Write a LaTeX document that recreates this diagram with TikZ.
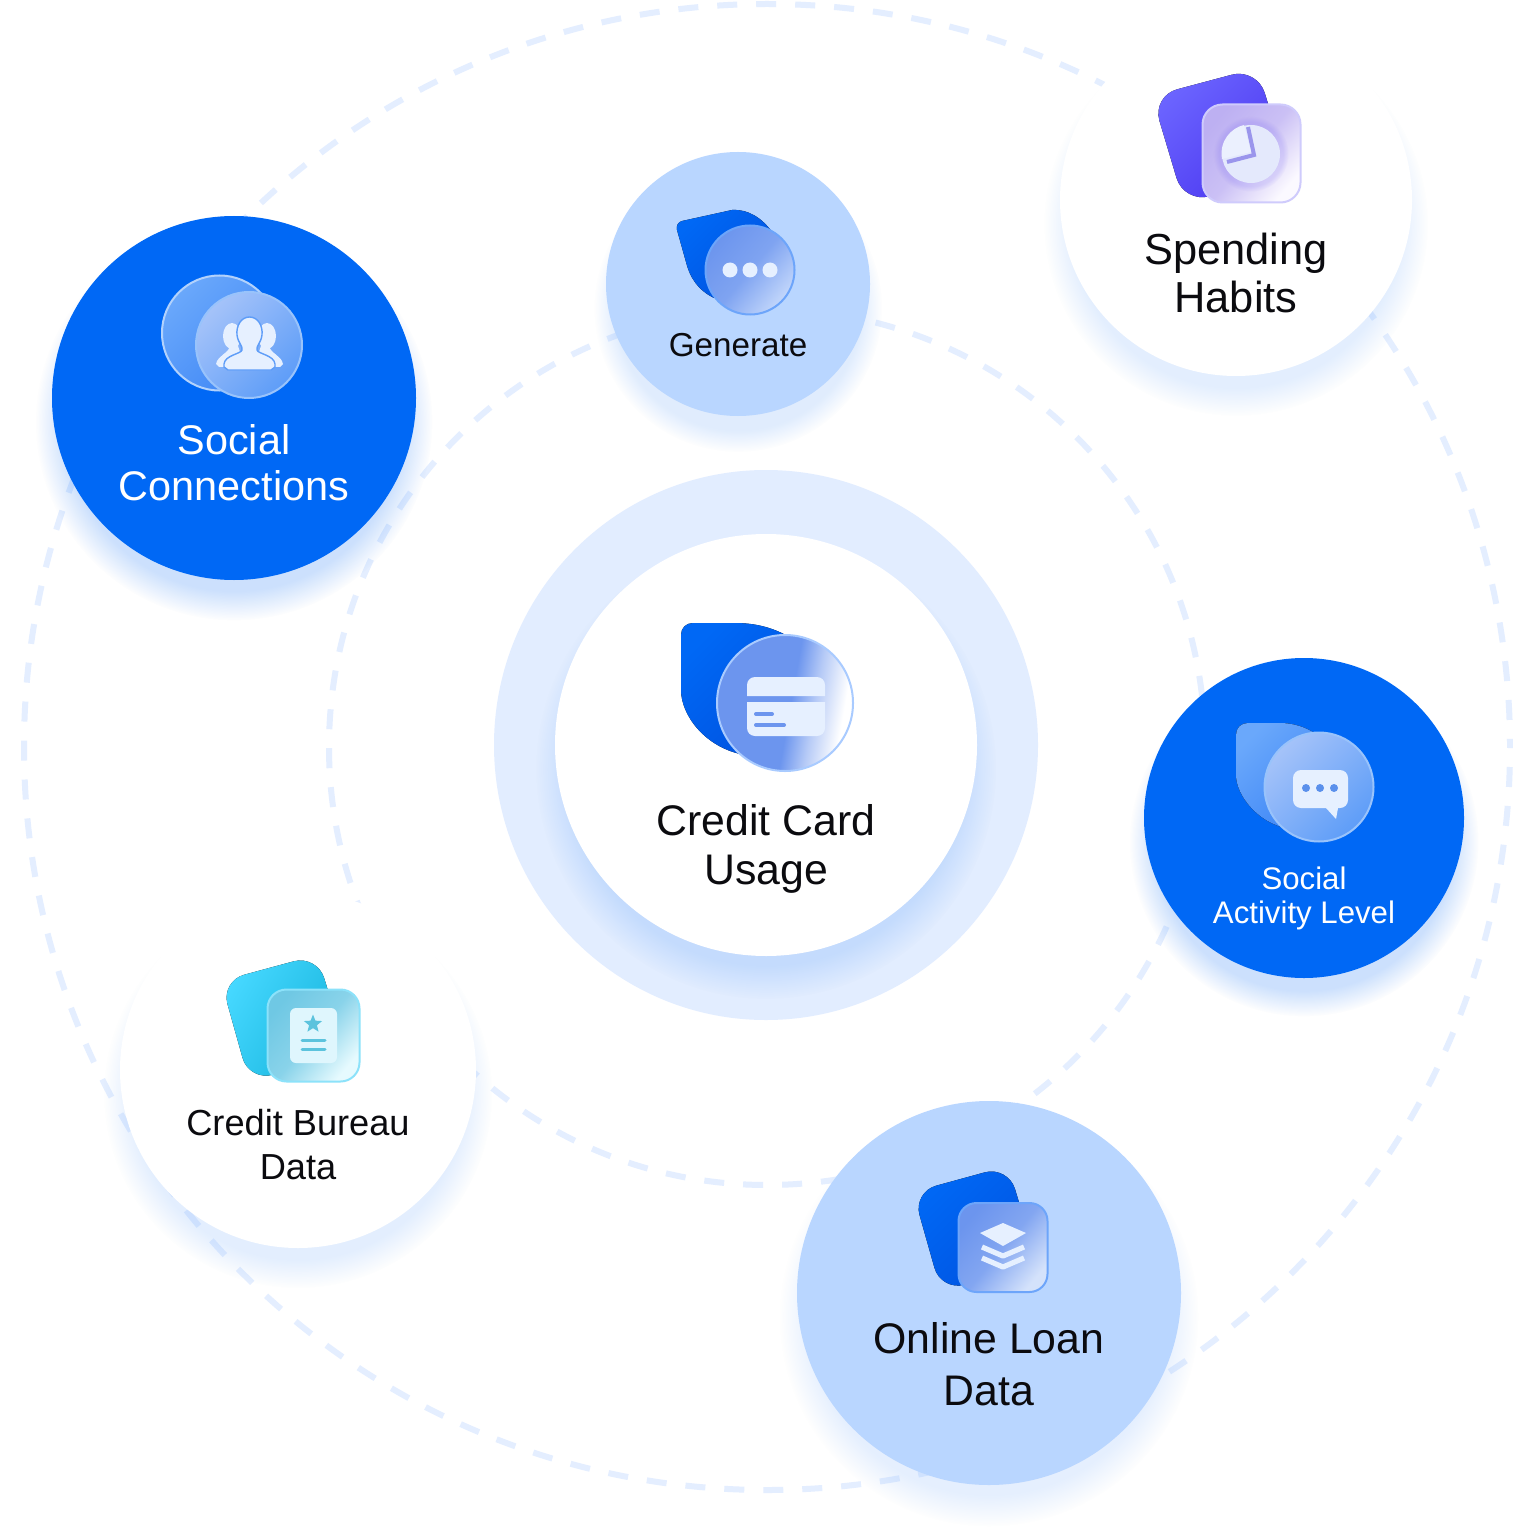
\documentclass[tikz,border=0pt]{standalone}
\usepackage{fontspec}
\setmainfont{Liberation Sans}
\usetikzlibrary{shadows,shapes.geometric}

\definecolor{brand}{HTML}{0068F5}
\definecolor{branddark}{HTML}{0053E0}
\definecolor{pale}{HTML}{B9D6FF}
\definecolor{ringblue}{HTML}{E2EDFF}
\definecolor{dashblue}{HTML}{E4EEFF}
\definecolor{ink}{HTML}{0B0B0F}
\definecolor{iconwhite}{HTML}{E6F0FF}
\definecolor{glassblue}{HTML}{6C95EE}
\definecolor{rimblue}{HTML}{A9CBFF}
\definecolor{dotsend}{HTML}{C3D7FB}
\definecolor{dotsrim}{HTML}{6DA5FA}
\definecolor{softback}{HTML}{6AA8FB}
\definecolor{softbackend}{HTML}{3F87F6}
\definecolor{softdisc}{HTML}{A5C3F9}
\definecolor{softdiscend}{HTML}{5E9DF8}
\definecolor{violet}{HTML}{6C65FF}
\definecolor{violetend}{HTML}{4A36F0}
\definecolor{lilac}{HTML}{BDB0F2}
\definecolor{lilacend}{HTML}{FBF9FF}
\definecolor{lilacrim}{HTML}{CFCBFC}
\definecolor{piefill}{HTML}{E4E9FC}
\definecolor{piecut}{HTML}{9A95EC}
\definecolor{pieslice}{HTML}{EBF0FE}
\definecolor{cyan1}{HTML}{46D8FF}
\definecolor{cyan2}{HTML}{16B4DC}
\definecolor{cyanglass}{HTML}{6FC8E4}
\definecolor{cyanend}{HTML}{E6FAFE}
\definecolor{cyanrim}{HTML}{8CE2FA}
\definecolor{paper}{HTML}{DFF6FD}
\definecolor{papermark}{HTML}{5CC3DD}
\definecolor{stackend}{HTML}{D4E2FB}
\definecolor{chatdot}{HTML}{5A90EC}

\pgfdeclareverticalshading{carddiscshade}{100bp}{
  color(0bp)=(white); color(28bp)=(white); color(39bp)=(glassblue!50!white);
  color(48bp)=(glassblue); color(100bp)=(glassblue)}

\begin{document}
\begin{tikzpicture}[
  x=0.5pt, y=-0.5pt,
  orbit/.style={draw=dashblue, line width=3pt, dash pattern=on 10pt off 9.5pt},
  bubble/.style={circle, inner sep=0pt, minimum size=#1},
  softshade/.style={circular drop shadow={shadow xshift=0pt, shadow yshift=-11pt,
      shadow scale=1.09, fill=#1, opacity=0.2}},
  lbl/.style n args={2}{font=\fontsize{#1}{#2}\selectfont, align=center, inner sep=0pt},
  glass/.style n args={3}{draw=#3, line width=1pt, top color=#1, bottom color=#2,
      middle color=#1!78!#2, shading angle=50},
  softdiscfill/.style={draw=white!60!brand, line width=1pt, top color=softdisc,
      bottom color=softdiscend, shading angle=45},
  ico/.style={fill=iconwhite},
]
\useasboundingbox[fill=white] (0,0) rectangle (1513,1535);

% Orbits
\draw[orbit, dash phase=9.5pt] (767,747) circle (743);
\draw[orbit, dash phase=5pt] (767,747) circle (438);

% Centre ring
\node[ellipse, inner sep=0pt, minimum width=272pt, minimum height=275pt, fill=ringblue] (ring) at (766,745) {};
\node[bubble=211pt, fill=white, softshade=brand!70] (centre) at (766,745) {};

% Bubbles
\node[bubble=182pt, fill=brand, softshade=brand] (social) at (234,398) {};
\node[bubble=132pt, fill=pale, softshade=brand!60] (generate) at (738,284) {};
\node[bubble=176pt, fill=white, softshade=brand!55] (spending) at (1236,200) {};
\node[bubble=160pt, fill=brand, softshade=brand] (activity) at (1304,818) {};
\node[bubble=192pt, fill=pale, softshade=brand!50] (loan) at (989,1293) {};
\node[bubble=178pt, fill=white, softshade=brand!55] (bureau) at (298,1070) {};

% Credit card icon
\fill[top color=brand, bottom color=branddark, shading angle=45]
  (693,623) -- (735,623) .. controls (760,623) and (780,630) .. (797,642)
  -- (770,740) -- (745,755) .. controls (705,748) and (681,715) .. (681,690)
  -- (681,635) .. controls (681,628) and (686,623) .. (693,623) -- cycle;
\node[bubble=68pt, draw=rimblue, line width=1pt, shading=carddiscshade, shading angle=80] (carddisc) at (785,703) {};
\path[ico] (747,696) [rounded corners=4pt] -- (747,677) -- (825,677) [sharp corners] -- (825,696) -- cycle;
\path[ico] (747,702) -- (825,702) [rounded corners=4pt] -- (825,736) -- (747,736) [sharp corners] -- cycle;
\draw[line width=2pt, line cap=round, color=glassblue] (756,714) -- (772,714);
\draw[line width=2pt, line cap=round, color=glassblue] (756,725) -- (784,725);

% Social connections icon
\node[bubble=57.5pt, draw=white!70!brand, line width=1pt, top color=softback, bottom color=softbackend,
  shading angle=45] (peopleback) at (219.5,333) {};
\node[bubble=53pt, softdiscfill] (peopledisc) at (249,345) {};
\fill[ico] (232,336) ellipse (9 and 13);
\fill[ico] (267,336) ellipse (9 and 13);
\fill[ico] (216,364) .. controls (218,355) and (228,354) .. (230,346) -- (238,346) -- (245,366) -- (219,367) -- cycle;
\fill[ico] (283,364) .. controls (281,355) and (271,354) .. (269,346) -- (261,346) -- (254,366) -- (280,367) -- cycle;
\draw[ico, draw=softdiscend, line width=0.7pt] (249.5,317) .. controls (258,317) and (263,326) .. (262,335)
  .. controls (261,343) and (256,346) .. (257,350) .. controls (258,354) and (274,355) .. (275,364)
  -- (275,367) -- (271,370) -- (228,370) -- (224,367) -- (224,364)
  .. controls (225,355) and (241,354) .. (242,350) .. controls (243,346) and (238,343) .. (237,335)
  .. controls (236,326) and (241,317) .. (249.5,317) -- cycle;

% Generate icon
\fill[top color=brand, bottom color=branddark, shading angle=45]
  (682,221) -- (732,210) .. controls (748,209) and (762,218) .. (772,232)
  -- (760,280) -- (714,298) .. controls (698,290) and (690,278) .. (686,262)
  -- (677,230) .. controls (676,226) and (678,222) .. (682,221) -- cycle;
\node[bubble=44.5pt, glass={glassblue}{dotsend}{dotsrim}] (dotsdisc) at (750,270) {};
\foreach \dx in {730,750,770}
  \fill[ico] (\dx,270) circle (7.5);

% Spending habits icon
\fill[top color=violet, bottom color=violetend, shading angle=45, rounded corners=13pt]
  (1152,96) -- (1257,68) -- (1290,175) -- (1184,203) -- cycle;
\node[rectangle, rounded corners=10pt, inner sep=0pt, minimum size=49pt,
  glass={lilac}{lilacend}{lilacrim}] (piecard) at (1251.5,153.5) {};
\node[bubble=29pt, fill=piefill, circular drop shadow={shadow xshift=0pt, shadow yshift=0pt,
  shadow scale=1.3, fill=violetend, opacity=0.12}] (pie) at (1251,154) {};
\draw[color=piecut, line width=2pt] (1248,127) -- (1254,155) -- (1227,162);
\fill[color=pieslice] (1251,152) -- (1244,125) .. controls (1231,128) and (1219,141) .. (1222,159) -- cycle;

% Credit bureau icon
\fill[top color=cyan1, bottom color=cyan2, shading angle=60, rounded corners=12pt]
  (221,981) -- (317,955) -- (348,1055) -- (249,1081) -- cycle;
\node[rectangle, rounded corners=9.5pt, inner sep=0pt, minimum size=46pt,
  glass={cyanglass}{cyanend}{cyanrim}] (papercard) at (313.5,1035.5) {};
\path[fill=paper, rounded corners=3pt] (290,1008) rectangle (337,1063);
\node[star, star points=5, star point ratio=2.3, inner sep=0pt, minimum size=9.5pt, fill=papermark] (paperstar) at (313,1024) {};
\draw[color=papermark, line width=1.5pt, line cap=round] (302,1040) -- (325,1040);
\draw[color=papermark, line width=1.5pt, line cap=round] (302,1049) -- (325,1049);

% Social activity icon
\fill[top color=softback, bottom color=softbackend, shading angle=45]
  (1248,723) -- (1283,723) .. controls (1298,724) and (1310,729) .. (1320,737)
  -- (1310,800) -- (1290,829) .. controls (1258,824) and (1236,795) .. (1236,775)
  -- (1236,735) .. controls (1236,728) and (1241,723) .. (1248,723) -- cycle;
\node[bubble=54.5pt, softdiscfill] (chatdisc) at (1319,787) {};
\fill[ico] (1326,808) [rounded corners=4pt] -- (1293,808) -- (1293,770) -- (1348,770) -- (1348,808)
  [sharp corners] -- (1338,808) -- (1336,819) -- cycle;
\foreach \dx in {1306,1320,1334}
  \fill[color=chatdot] (\dx,788) circle (4);

% Online loan icon
\fill[top color=brand, bottom color=branddark, shading angle=45, rounded corners=12pt]
  (913,1192) -- (1008,1166) -- (1038,1265) -- (941,1291) -- cycle;
\node[rectangle, rounded corners=9pt, inner sep=0pt, minimum size=44.5pt,
  glass={glassblue}{stackend}{dotsrim}] (stackcard) at (1003,1247.5) {};
\fill[ico] (980,1233) -- (1003,1223) -- (1026,1233) -- (1003,1246) -- cycle;
\draw[color=iconwhite, line width=2.6pt, line join=round] (982,1247) -- (1003,1256) -- (1024,1247);
\draw[color=iconwhite, line width=2.6pt, line join=round] (982,1258) -- (1003,1267) -- (1024,1258);

% Labels
\node[lbl={20.7}{23}, text=white] (sociallabel) at (234,463) {Social\\Connections};
\node[lbl={16.6}{18}, text=ink] (generatelabel) at (738,345) {Generate};
\node[lbl={21.7}{24}, text=ink] (spendinglabel) at (1236,273) {Spending\\Habits};
\node[lbl={21.4}{24.3}, text=ink] (centrelabel) at (766,849) {Credit Card\\Usage};
\node[lbl={15.6}{17}, text=white] (activitylabel) at (1304,898) {Social\\Activity Level};
\node[lbl={18.1}{22}, text=ink] (bureaulabel) at (298,1145) {Credit Bureau\\Data};
\node[lbl={21.4}{26}, text=ink] (loanlabel) at (989,1364) {Online Loan\\Data};

\end{tikzpicture}
\end{document}
